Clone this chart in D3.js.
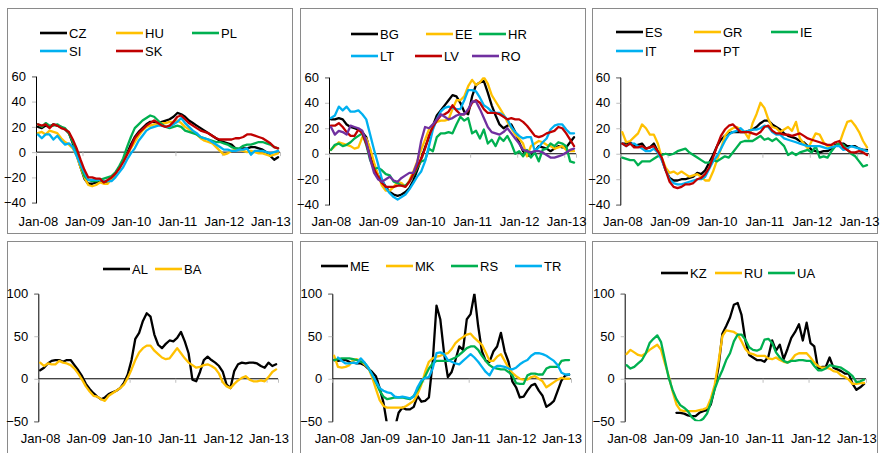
<!DOCTYPE html>
<html><head><meta charset="utf-8">
<script src="https://cdn.jsdelivr.net/npm/d3@7"></script>
<style>
body{margin:0;background:#fff}
text{font-family:"Liberation Sans",Arial,sans-serif;font-size:13px;fill:#000}
</style>
</head><body><svg id="c" width="882" height="453"></svg>
<script>
// ---- tick labels ----
const xTickLabels = ["Jan-08","Jan-09","Jan-10","Jan-11","Jan-12","Jan-13"];
const xTickMonths = [0,12,24,36,48,60];
const yTicksTop = [60,40,20,0,-20,-40];
const yTicksBottom = [100,50,0,-50];
const N = 63; // Jan-08 .. Mar-13 monthly

// ---- series (monthly, Jan-08 .. Mar-13) ----
const CZ = [20,19,21,20,22,21,20,18,15,7,-2,-12,-21,-25,-25,-24,-22,-24,-24,-21,-17,-12,-7,-1,6,12,16,19,22,24,24,23,24,25,26,28,31,30,28,25,23,21,19,17,15,13,11,9,8,7,6,3,2,3,3,4,4,3,2,0,-3,-6,-4];
const HU = [15,16,14,17,16,15,11,8,6,3,-3,-12,-20,-26,-27,-26,-24,-25,-25,-21,-17,-12,-7,-2,3,8,13,17,20,21,22,22,23,23,24,24,25,23,20,18,16,14,11,9,8,7,4,1,-2,-1,1,2,2,1,0,1,0,-1,-1,-2,-3,-2,-1];
const PL = [22,20,23,21,21,22,20,19,15,8,1,-10,-19,-22,-23,-23,-22,-21,-20,-19,-16,-11,-5,4,12,19,22,25,27,29,28,25,22,20,19,20,21,20,17,16,15,14,12,11,10,9,8,8,7,6,4,3,3,5,6,6,7,8,8,7,6,4,3];
const SI = [14,11,14,14,10,13,9,6,7,4,-3,-10,-16,-22,-22,-22,-22,-23,-23,-23,-20,-16,-12,-6,-1,3,9,13,17,19,20,21,21,20,20,22,24,27,23,20,17,15,12,11,10,8,6,4,2,2,1,1,2,2,3,-2,1,1,1,0,-1,0,1];
const SK = [22,21,22,19,22,21,19,18,16,10,3,-6,-14,-20,-20,-21,-21,-24,-22,-20,-17,-13,-8,-2,4,11,15,18,21,23,25,23,21,20,21,24,28,29,26,23,21,19,17,16,15,13,11,10,10,10,10,11,11,12,14,14,13,12,11,9,7,4,3];

const BG = [27,27,28,27,23,21,20,19,17,13,2,-9,-17,-21,-26,-30,-32,-33,-32,-30,-27,-21,-13,-4,5,13,22,30,34,38,42,46,45,40,33,31,45,54,56,57,48,38,30,23,20,22,23,17,9,2,-1,-2,2,6,5,4,2,4,6,5,5,9,13];
const EE = [3,6,9,8,7,6,4,5,13,12,4,-7,-17,-25,-29,-29,-26,-22,-23,-26,-21,-14,-6,3,11,19,23,25,26,26,27,35,42,42,45,53,58,54,56,60,55,46,41,36,31,25,20,15,12,8,-2,6,8,10,9,7,6,4,5,6,3,2,2];
const HR = [3,7,8,6,7,9,12,14,16,7,-5,-12,-11,-13,-16,-17,-22,-23,-25,-25,-22,-17,-11,-6,-5,4,2,13,16,16,17,16,23,29,26,28,16,18,12,19,8,11,6,13,10,14,8,0,2,-2,3,-3,1,-6,3,4,8,6,9,8,6,-6,-7];
const LT = [28,30,37,34,37,33,33,34,31,27,15,3,-8,-20,-27,-31,-34,-36,-34,-32,-28,-23,-18,-14,-6,6,19,27,33,36,37,36,35,35,42,50,50,49,44,38,36,33,32,32,30,27,21,17,14,12,13,13,2,5,9,12,19,22,23,23,19,16,16];
const LV = [22,22,24,21,17,14,14,19,16,8,-3,-12,-18,-23,-26,-26,-26,-25,-25,-26,-22,-16,-10,-4,4,14,21,26,30,31,33,38,34,31,31,34,40,42,40,35,32,32,32,31,29,27,28,27,27,25,22,18,14,13,14,16,17,18,21,20,16,11,6];
const RO = [21,15,18,17,15,22,21,20,18,10,-4,-15,-20,-22,-20,-18,-21,-22,-19,-17,-15,-15,-7,10,21,20,23,27,31,29,27,28,30,31,31,35,41,41,35,28,21,17,16,15,17,20,16,12,8,3,2,1,2,2,1,-1,-3,-3,-2,-1,1,3,4];

const ES = [8,8,9,6,7,8,4,5,8,2,-4,-13,-19,-21,-21,-20,-20,-19,-18,-15,-16,-13,-7,-1,6,11,14,16,17,17,17,17,18,19,21,24,26,26,23,21,19,16,14,13,12,10,9,6,3,2,1,2,2,4,7,8,8,6,6,6,4,3,3];
const GR = [17,9,10,13,16,23,20,15,15,8,-3,-11,-15,-14,-16,-14,-16,-18,-17,-16,-18,-21,-21,-14,-5,4,14,18,20,21,19,17,12,24,31,40,36,27,21,20,17,19,21,18,25,12,8,4,10,16,15,9,6,6,6,8,17,25,26,22,17,10,5];
const IE = [-3,-4,-5,-5,-9,-6,-6,-6,-4,-2,-1,0,-1,0,2,3,4,1,-1,-3,-5,-7,-7,-5,-6,-4,-2,-3,1,5,9,10,10,10,12,14,11,12,10,12,9,6,-1,1,-1,1,2,3,1,6,-3,-2,-3,2,6,8,7,3,0,-2,-6,-10,-9];
const IT = [8,6,8,8,6,4,2,2,4,1,-5,-13,-20,-23,-24,-24,-23,-22,-21,-20,-20,-18,-12,-6,-2,4,10,15,17,18,20,17,18,19,19,20,22,21,17,15,15,12,11,10,9,8,7,6,6,6,6,5,4,5,6,6,3,4,6,5,4,3,2];
const PT = [8,6,8,5,5,6,4,5,6,2,-3,-13,-22,-26,-27,-26,-24,-24,-23,-20,-19,-16,-11,-3,6,14,19,22,23,20,17,17,17,16,15,17,21,22,18,16,16,15,15,14,15,16,14,12,11,10,9,8,7,7,9,10,5,3,1,1,2,1,-1];

const AL = [10,13,18,21,22,22,20,22,22,16,10,3,-6,-12,-17,-21,-24,-22,-18,-16,-14,-11,-5,5,22,47,54,68,77,73,52,40,36,41,45,44,48,55,44,30,-1,-3,8,22,26,22,19,15,8,-7,-11,9,17,19,18,19,19,18,15,13,19,15,17];
const BA = [19,15,18,17,17,21,19,18,16,12,6,-1,-9,-15,-20,-21,-24,-26,-20,-17,-14,-11,-7,1,11,22,31,36,39,39,33,29,25,23,24,30,36,30,24,19,16,13,14,16,17,15,12,6,-4,-9,-11,-6,-2,1,3,-1,-3,-3,-2,-3,2,8,11];

const ME = [22,21,22,22,20,19,18,18,16,12,8,3,-11,-28,-55,-60,-58,-40,-34,-36,-36,-33,-20,-27,-26,-22,20,86,70,30,2,8,22,38,34,70,76,100,62,32,21,20,32,38,54,32,20,-3,-10,-22,-21,-14,-8,-6,-14,-20,-33,-30,-26,-14,-2,4,5];
const MK = [27,14,13,14,16,22,23,21,17,13,2,-12,-25,-32,-34,-34,-34,-34,-34,-32,-29,-26,-18,-7,8,20,24,26,27,29,30,35,42,46,49,52,53,48,44,40,31,21,21,26,29,21,13,7,3,0,-1,-1,2,3,0,-3,-10,-7,-4,-1,1,0,0];
const RS = [22,23,24,24,24,23,22,20,19,13,5,-4,-14,-21,-24,-23,-22,-22,-22,-23,-24,-20,-13,-5,3,12,18,21,21,21,21,23,25,28,32,36,38,38,34,27,21,16,13,12,11,11,8,4,-5,-6,-6,4,6,6,5,5,12,14,14,14,21,22,22];
const TR = [null,25,21,18,18,19,18,24,19,13,5,-3,-11,-14,-16,-17,-21,-22,-21,-22,-23,-21,-10,-2,1,2,12,30,31,29,22,20,18,17,21,25,29,25,20,14,8,4,12,15,15,14,12,11,13,17,20,22,27,30,30,29,27,24,21,16,7,5,5];

const KZ = [null,null,null,null,null,null,null,null,null,null,null,null,null,-40,-40,-41,-43,-44,-44,-40,-38,-37,-30,-11,14,53,62,72,87,89,75,45,28,25,22,22,20,26,45,33,40,23,35,48,55,64,45,66,42,38,11,14,14,25,13,11,9,6,6,-6,-13,-10,-6];
const RU = [29,34,31,28,27,30,34,37,40,34,18,3,-15,-30,-37,-38,-38,-38,-38,-37,-36,-34,-23,-7,20,50,57,56,55,52,44,35,30,29,27,27,27,24,23,25,22,20,19,22,28,30,30,30,25,19,15,13,13,12,9,8,4,2,-1,-6,-6,-5,-5];
const UA = [16,12,14,18,22,30,42,47,51,43,22,1,-13,-24,-31,-34,-38,-45,-49,-50,-47,-41,-28,-12,0,10,22,30,44,52,52,46,37,34,33,35,46,47,42,31,25,21,19,21,21,22,22,21,21,15,10,10,12,16,15,14,13,10,7,3,-4,-3,-1];

// ---- styling / layout ----
const C = {k:"#000000", y:"#FFC000", g:"#00B050", b:"#00B0F0", r:"#C00000", p:"#7030A0"};

const panels = [
  {frame:[7,8,292,233], ax:36, ex:280, yt:76.3, yb:202.7, dom:[-40,60], ticks:yTicksTop, lab:225.5,
   ser:[["CZ",CZ,C.k,40,33],["HU",HU,C.y,116,33],["PL",PL,C.g,192,33],["SI",SI,C.b,40,51],["SK",SK,C.r,116,51]]},
  {frame:[300,8,585,233], ax:329, ex:576, yt:77.3, yb:204.7, dom:[-40,60], ticks:yTicksTop, lab:225.5,
   ser:[["BG",BG,C.k,351,34],["EE",EE,C.y,426,34],["HR",HR,C.g,479,34],["LT",LT,C.b,351,56],["LV",LV,C.r,415,56],["RO",RO,C.p,472,56]]},
  {frame:[592,8,877,233], ax:620.3, ex:869, yt:77.3, yb:204.7, dom:[-40,60], ticks:yTicksTop, lab:225.5,
   ser:[["ES",ES,C.k,616,32],["GR",GR,C.y,694,32],["IE",IE,C.g,771,32],["IT",IT,C.b,616,51],["PT",PT,C.r,694,51]]},
  {frame:[7,241,292,470], ax:38.3, ex:278, yt:293.7, yb:421.3, dom:[-50,100], ticks:yTicksBottom, lab:443,
   ser:[["AL",AL,C.k,103,269],["BA",BA,C.y,155,269]]},
  {frame:[300,241,585,470], ax:332.3, ex:571, yt:293.7, yb:421.3, dom:[-50,100], ticks:yTicksBottom, lab:443,
   ser:[["ME",ME,C.k,321,266],["MK",MK,C.y,386,266],["RS",RS,C.g,451,266],["TR",TR,C.b,515,266]]},
  {frame:[592,241,877,470], ax:624.7, ex:866, yt:293.7, yb:421.3, dom:[-50,100], ticks:yTicksBottom, lab:443,
   ser:[["KZ",KZ,C.k,661,273],["RU",RU,C.y,715,273],["UA",UA,C.g,768,273]]}
];

const svg = d3.select("#c");
const LW = 2.3;

panels.forEach((p, pi) => {
  const [fx0, fy0, fx1, fy1] = p.frame;
  svg.append("rect").attr("x", fx0+0.5).attr("y", fy0+0.5)
    .attr("width", fx1-fx0).attr("height", fy1-fy0)
    .attr("fill", "none").attr("stroke", "#8a8a8a").attr("stroke-width", 1);

  const x = d3.scaleLinear().domain([0, N]).range([p.ax, p.ex]);
  const y = d3.scaleLinear().domain(p.dom).range([p.yb, p.yt]);
  const g = svg.append("g");

  // y axis
  const ya = g.append("g").attr("transform", `translate(${p.ax},0)`)
    .call(d3.axisLeft(y).tickValues(p.ticks).tickSize(4).tickPadding(6).tickFormat(d3.format("d")));
  ya.select(".domain").attr("stroke", "#000").attr("stroke-width", 1);
  ya.selectAll(".tick line").attr("stroke", "#bfbfbf");
  ya.selectAll(".tick text").attr("fill", "#000").style("font-family", '"Liberation Sans",Arial,sans-serif').style("font-size", "13px");

  // zero line with month ticks
  const xa = g.append("g").attr("transform", `translate(0,${y(0)})`)
    .call(d3.axisBottom(x).tickValues(xTickMonths.concat([N])).tickSize(4).tickFormat(""));
  xa.select(".domain").attr("stroke", "#000").attr("stroke-width", 1).attr("d", `M${p.ax},0H${p.ex}`);
  xa.selectAll(".tick line").attr("stroke", "#bfbfbf");

  // x labels (low position)
  const xl = g.append("g").attr("transform", `translate(0,${p.lab})`)
    .call(d3.axisBottom(x).tickValues(xTickMonths.map(m => m + 0.5)).tickSize(0).tickPadding(0)
      .tickFormat((d, i) => xTickLabels[i]));
  xl.select(".domain").remove();
  xl.selectAll(".tick text").attr("dy", 0).attr("y", 0).attr("fill", "#000")
    .style("font-family", '"Liberation Sans",Arial,sans-serif').style("font-size", "13px");

  // clip
  const cid = "clip" + pi;
  svg.append("clipPath").attr("id", cid).append("rect")
    .attr("x", p.ax).attr("y", p.yt).attr("width", p.ex - p.ax).attr("height", p.yb - p.yt);

  const line = d3.line().defined(d => d != null)
    .x((d, i) => x(i + 0.5)).y(d => y(d));

  const lg = g.append("g").attr("clip-path", `url(#${cid})`);
  p.ser.forEach(([name, vals, col]) => {
    lg.append("path").datum(vals).attr("d", line)
      .attr("fill", "none").attr("stroke", col).attr("stroke-width", LW)
      .attr("stroke-linejoin", "round").attr("stroke-linecap", "round");
  });

  // legend
  p.ser.forEach(([name, vals, col, lx, ly]) => {
    g.append("line").attr("x1", lx).attr("x2", lx + 27).attr("y1", ly).attr("y2", ly)
      .attr("stroke", col).attr("stroke-width", 2.6);
    g.append("text").attr("x", lx + 29).attr("y", ly).attr("dy", "0.36em").text(name);
  });
});
</script>
</body></html>
